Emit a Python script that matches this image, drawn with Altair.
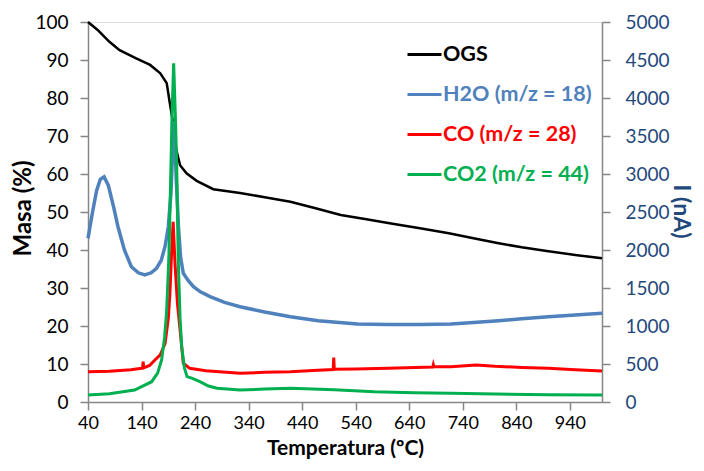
import altair as alt
import pandas as pd

series_names = ["OGS", "H2O (m/z = 18)", "CO (m/z = 28)", "CO2 (m/z = 44)"]
series_colors = ["#000000", "#4F81BD", "#FF0000", "#00B050"]

# OGS mass loss (%), left axis
ogs_t = [40, 58, 80, 99, 130, 156, 175, 187, 193, 199, 205, 212, 224, 243, 274, 324,
         370, 418, 465, 512, 560, 606, 660, 714, 760, 807, 850, 900, 950, 1000]
ogs_mass = [100, 97.9, 94.8, 92.6, 90.4, 88.7, 86.5, 83.9, 78.5, 73.3, 66.3, 62.3, 60.2, 58.2, 56.0, 55.0,
            53.9, 52.7, 51.0, 49.2, 48.1, 47.0, 45.7, 44.4, 43.1, 41.8, 40.7, 39.7, 38.7, 37.8]

# H2O (m/z = 18), nA, right axis
h2o_t = [40, 48, 56, 63, 70, 78, 88, 96, 108, 121, 134, 146, 158, 168, 177, 184, 190, 195, 198, 200,
         202, 205, 209, 213, 218, 227, 237, 250, 268, 295, 324, 370, 418, 470, 543, 600, 660, 718,
         760, 807, 850, 900, 950, 1000]
h2o_i = [2153, 2480, 2780, 2930, 2964, 2850, 2560, 2306, 2000, 1780, 1700, 1671, 1700, 1760, 1868, 2050,
         2306, 2750, 3300, 3700, 3500, 2900, 2300, 1900, 1693, 1600, 1517, 1450, 1386, 1310, 1254,
         1185, 1123, 1070, 1026, 1020, 1020, 1026, 1045, 1070, 1095, 1123, 1145, 1167]

# CO (m/z = 28), nA, right axis
co_t = [40, 80, 120, 140, 142, 143, 144, 155, 165, 175, 184, 190, 193, 196, 199, 202.5, 207, 212, 218,
        230, 260, 324, 370, 418, 460, 498, 499, 500, 540, 600, 684, 685, 686, 718, 765, 800, 850, 900,
        950, 1000]
co_i = [399, 405, 425, 443, 450, 530, 450, 480, 553, 620, 772, 1100, 1430, 1950, 2372, 1825, 1300, 947, 510,
        443, 410, 378, 390, 399, 415, 428, 583, 430, 435, 445, 460, 490, 465, 465, 487, 470, 455, 443,
        425, 408]

# CO2 (m/z = 44), nA, right axis
co2_t = [40, 80, 127, 159, 170, 177.5, 183, 187, 191, 194, 197, 200, 203, 205.6, 208.7, 212, 215, 220,
         225, 235, 249, 265, 281, 324, 370, 418, 500, 574, 650, 718, 800, 900, 1000]
co2_i = [92, 110, 158, 267, 380, 553, 850, 1210, 1900, 2800, 3800, 4456, 3800, 3141, 1825, 1100, 728, 450,
         333, 310, 267, 210, 180, 158, 170, 180, 160, 135, 122, 114, 105, 97, 92]

x_ticks = list(range(40, 1000, 100))
left_ticks = list(range(0, 101, 10))
right_ticks = list(range(0, 5001, 500))

FONT = "Lato"
GRAY = "#868686"
NAVY = "#1F497D"

def frame(t, v, name):
    return pd.DataFrame({"T": t, "v": v, "series": name})

df_ogs = frame(ogs_t, ogs_mass, series_names[0])
df_h2o = frame(h2o_t, h2o_i, series_names[1])
df_co = frame(co_t, co_i, series_names[2])
df_co2 = frame(co2_t, co2_i, series_names[3])

label_expr = " : ".join(
    f"datum.value == '{n}' ? '{c}'" for n, c in zip(series_names, series_colors)
) + " : 'black'"

color = alt.Color(
    "series:N",
    scale=alt.Scale(domain=series_names, range=series_colors),
    legend=alt.Legend(
        orient="none", legendX=318, legendY=14, title=None,
        symbolType="stroke", symbolSize=1156, symbolStrokeWidth=3,
        labelFont=FONT, labelFontSize=21.5, labelFontWeight="bold",
        labelColor={"expr": label_expr}, rowPadding=11, labelOffset=0,
    ),
)

common_axis = dict(
    grid=False, tickSize=8, labelFlush=False, labelOverlap=False,
    labelFont=FONT, titleFont=FONT, titleFontWeight="bold",
    domainColor=GRAY, tickColor=GRAY, domainWidth=1.5, tickWidth=1.5,
)

x_enc = alt.X(
    "T:Q",
    scale=alt.Scale(domain=[40, 1000], nice=False, zero=False),
    axis=alt.Axis(
        values=x_ticks, title="Temperatura (ºC)", labelPadding=4, labelFontSize=18,
        labelColor="#000000", titleColor="#000000", titleFontSize=21,
        titleY=46, titleBaseline="middle", **common_axis,
    ),
)

y_left = alt.Y(
    "v:Q",
    scale=alt.Scale(domain=[0, 100], nice=False),
    axis=alt.Axis(
        values=left_ticks, orient="left", title="Masa (%)", labelPadding=12, labelFontSize=19,
        labelColor="#000000", titleColor="#000000", titleFontSize=24,
        titleX=-65, titleY=186, titleAngle=-90, titleBaseline="middle", titleAlign="center",
        **common_axis,
    ),
)

y_right = alt.Y(
    "v:Q",
    scale=alt.Scale(domain=[0, 5000], nice=False),
    axis=alt.Axis(
        values=right_ticks, orient="right", title="I (nA)", format="d", labelPadding=15,
        labelFontSize=19, labelColor=NAVY, titleColor=NAVY, titleFontSize=23,
        titleX=78, titleY=189, titleAngle=90, titleBaseline="middle", titleAlign="center",
        **common_axis,
    ),
)

ogs = alt.Chart(df_ogs).mark_line(strokeWidth=2.5).encode(x=x_enc, y=y_left, color=color)
h2o = alt.Chart(df_h2o).mark_line(strokeWidth=3.5).encode(x=x_enc, y=y_right, color=color)
co = alt.Chart(df_co).mark_line(strokeWidth=3).encode(x=x_enc, y=y_right, color=color)
co2 = alt.Chart(df_co2).mark_line(strokeWidth=3).encode(x=x_enc, y=y_right, color=color)

ms = alt.layer(h2o, co, co2)

chart = (
    alt.layer(ogs, ms)
    .resolve_scale(y="independent")
    .properties(
        width=514, height=380,
        autosize=alt.AutoSizeParams(type="none"),
        padding={"left": 80, "top": 14, "right": 94, "bottom": 57},
    )
    .configure_view(stroke=GRAY, strokeWidth=1.5)
    .configure(background="white")
)

chart.save("out.html", embed_options={"renderer": "svg", "actions": False})
